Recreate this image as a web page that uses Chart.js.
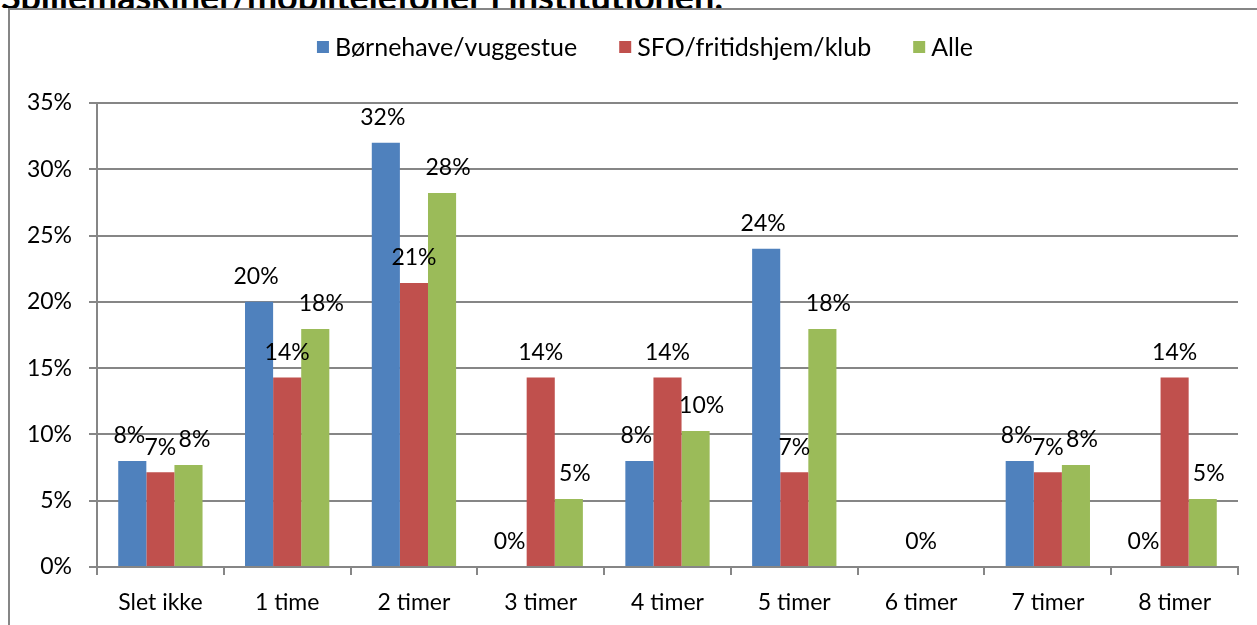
<!DOCTYPE html>
<html>
<head>
<meta charset="utf-8">
<script src="https://cdn.jsdelivr.net/npm/chart.js@4"></script>
<style>
  body { margin: 0; background: #fff; overflow: hidden; }
  #wrap { position: relative; width: 1257px; height: 625px; overflow: hidden; }
  #titleClip { position: absolute; left: 0; top: 0; width: 1257px; height: 8px; overflow: hidden; }
  #title { position: absolute; left: 1px; top: -22px; font: bold 36px Lato, sans-serif; line-height: 36px; white-space: nowrap; color: #000; }
  #frame { position: absolute; left: 8px; top: 8px; width: 1300px; height: 700px; border: 2px solid #868686; box-sizing: border-box; }
  canvas { position: absolute; left: 0; top: 0; }
</style>
</head>
<body>
<div id="wrap">
  <div id="titleClip"><div id="title">Spillemaskiner/mobiltelefoner i institutionen.</div></div>
  <div id="frame"></div>
  <canvas id="chart" width="1257" height="625"></canvas>
</div>
<script>
const categories = ['Slet ikke', '1 time', '2 timer', '3 timer', '4 timer', '5 timer', '6 timer', '7 timer', '8 timer'];
const boernehave = [8, 20, 32, 0, 8, 24, null, 8, 0];
const sfo = [7.14, 14.29, 21.43, 14.29, 14.29, 7.14, 0, 7.14, 14.29];
const alle = [7.69, 17.95, 28.21, 5.13, 10.26, 17.95, null, 7.69, 5.13];
const yTicks = [0, 5, 10, 15, 20, 25, 30, 35];

const font = 'Lato, "Open Sans", sans-serif';
const fontSize = 23;

// data labels over each bar
const valueLabels = {
  id: 'valueLabels',
  afterDatasetsDraw(chart) {
    const c = chart.ctx;
    const shift = [-3, 0, 6];
    c.save();
    c.font = fontSize + 'px ' + font;
    c.fillStyle = '#000';
    c.textAlign = 'center';
    c.textBaseline = 'middle';
    chart.data.datasets.forEach((ds, i) => {
      chart.getDatasetMeta(i).data.forEach((bar, j) => {
        const v = ds.data[j];
        if (v == null) return;
        c.fillText(Math.round(v) + '%', bar.x + shift[i], bar.y - 25);
      });
    });
    c.restore();
  }
};

// legend drawn like the original (small square, narrow gap)
const topLegend = {
  id: 'topLegend',
  afterDraw(chart) {
    const c = chart.ctx;
    const box = 12, gap = 6, spacing = 42, y = 47;
    c.save();
    c.font = '25px ' + font;
    c.textBaseline = 'middle';
    const items = chart.data.datasets.map(ds => ({ text: ds.label, color: ds.backgroundColor, w: c.measureText(ds.label).width }));
    const total = items.reduce((s, it) => s + box + gap + it.w, 0) + spacing * (items.length - 1);
    let x = 645 - total / 2;
    items.forEach(it => {
      c.fillStyle = it.color;
      c.fillRect(x, y - box / 2, box, box);
      c.fillStyle = '#000';
      c.fillText(it.text, x + box + gap, y + 1);
      x += box + gap + it.w + spacing;
    });
    c.restore();
  }
};

new Chart(document.getElementById('chart'), {
  type: 'bar',
  data: {
    labels: categories,
    datasets: [
      { label: 'Børnehave/vuggestue', data: boernehave, backgroundColor: '#4F81BD' },
      { label: 'SFO/fritidshjem/klub', data: sfo, backgroundColor: '#C0504D' },
      { label: 'Alle', data: alle, backgroundColor: '#9BBB59' }
    ]
  },
  options: {
    responsive: false,
    animation: false,
    layout: { padding: { left: 9, right: 19, top: 103, bottom: 0 } },
    datasets: { bar: { categoryPercentage: 0.665, barPercentage: 1 } },
    plugins: {
      tooltip: { enabled: false },
      legend: { display: false }
    },
    scales: {
      x: {
        grid: { drawOnChartArea: false, drawTicks: true, tickLength: 8, color: '#868686', lineWidth: 2 },
        border: { color: '#868686', width: 2 },
        ticks: { color: '#000', padding: 14, font: { family: font, size: fontSize } },
        afterFit: s => { s.height = 58; }
      },
      y: {
        min: 0, max: 35,
        afterBuildTicks: s => { s.ticks = yTicks.map(v => ({ value: v })); },
        grid: { color: '#868686', lineWidth: 2, tickLength: 8 },
        border: { color: '#868686', width: 2 },
        ticks: { color: '#000', padding: 17, font: { family: font, size: fontSize }, callback: v => v + '%' },
        afterFit: s => { s.width = 88; }
      }
    }
  },
  plugins: [valueLabels, topLegend]
});
</script>
</body>
</html>
